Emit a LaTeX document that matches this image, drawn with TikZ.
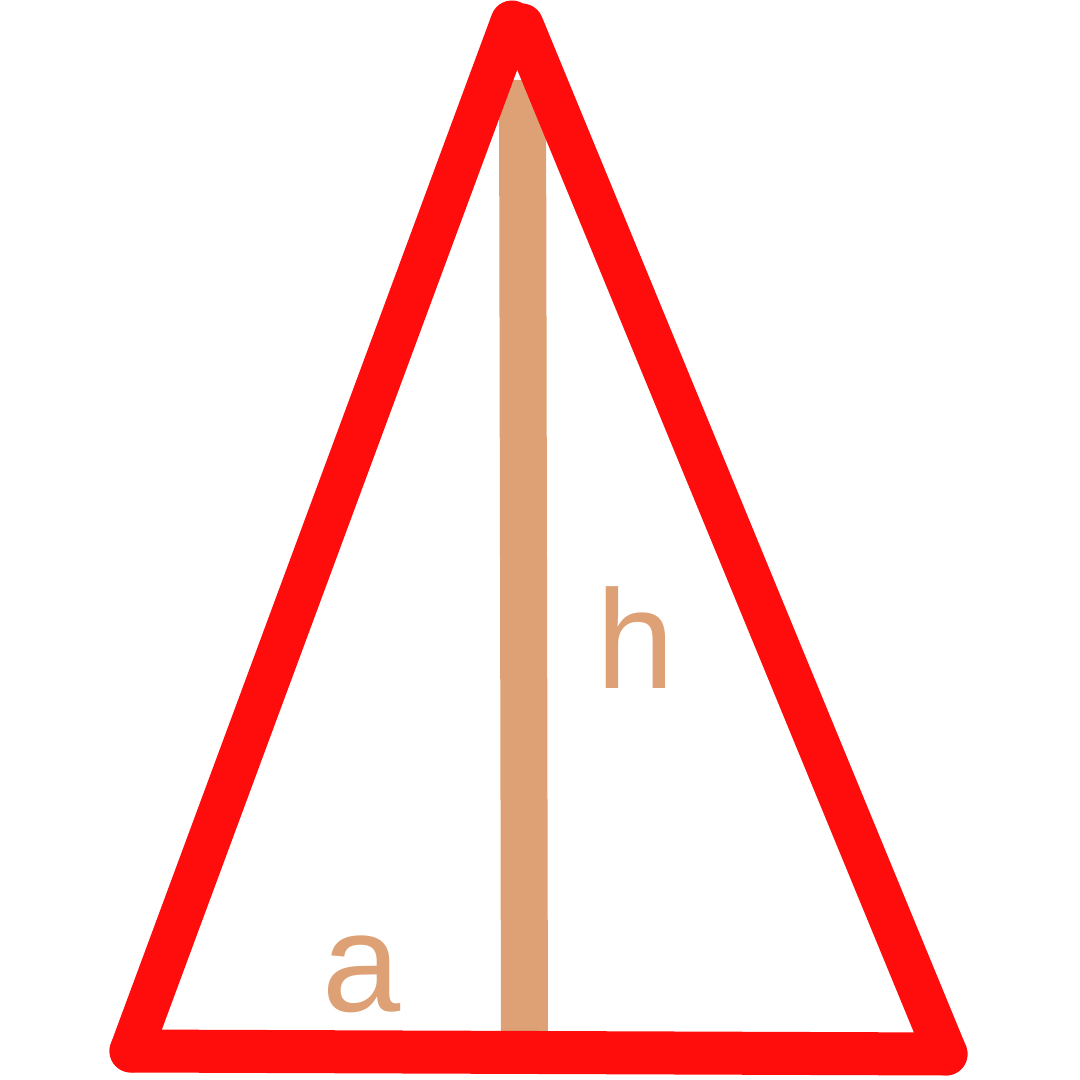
\documentclass[tikz,border=0pt]{standalone}
\usepackage{fontspec}
\setmainfont{Liberation Sans}
\definecolor{tri}{HTML}{FF0C0C}
\definecolor{alt}{HTML}{DDA175}
\begin{document}
\begin{tikzpicture}[x=1cm,y=1cm,
  side/.style={draw=tri,line width=0.43cm,line cap=round,line join=round},
  altline/.style={draw=alt,line width=0.47cm},
  lbl/.style={text=alt,font=\fontsize{40}{48}\selectfont,anchor=base,inner sep=0pt}]
\useasboundingbox (0,0) rectangle (10.8,10.8);
\coordinate (apexL) at (5.12,10.58);
\coordinate (apexR) at (5.22,10.55);
\coordinate (bl) at (1.31,0.29);
\coordinate (br) at (9.46,0.26);
\coordinate (htop) at (5.225,10.0);
\coordinate (hbot) at (5.245,0.35);
\draw[altline] (htop) -- (hbot);
\draw[side] (bl) -- (apexL);
\draw[side] (apexR) -- (br);
\draw[side] (bl) -- (br);
\node[lbl] (h) at (6.36,3.91) {h};
\node[lbl] (a) at (3.62,0.68) {a};
\end{tikzpicture}
\end{document}
